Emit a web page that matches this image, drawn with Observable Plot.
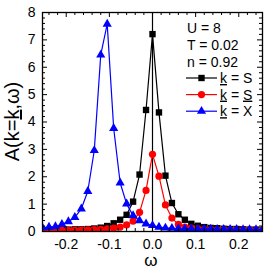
<!DOCTYPE html>
<html>
<head>
<meta charset="utf-8">
<script src="https://cdn.jsdelivr.net/npm/d3@7"></script>
<script src="https://cdn.jsdelivr.net/npm/@observablehq/plot@0.6"></script>
<style>
  html, body { margin: 0; padding: 0; background: #fff; overflow: hidden; }
  #chart svg { display: block; font-family: "Liberation Sans", Arial, sans-serif; }
</style>
</head>
<body>
<div id="chart"></div>
<script>
const omega = [-0.255,-0.24,-0.225,-0.21,-0.195,-0.18,-0.165,-0.15,-0.135,-0.12,-0.105,-0.09,-0.075,-0.06,-0.045,-0.03,-0.015,0,
  0.015,0.03,0.045,0.06,0.075,0.09,0.105,0.12,0.135,0.15,0.165,0.18,0.195,0.21,0.225,0.24,0.255];
const seriesS = [0.05,0.05,0.06,0.06,0.07,0.08,0.08,0.09,0.11,0.14,0.20,0.30,0.43,0.61,1.09,2.08,4.44,7.21,
  4.35,2.04,1.04,0.63,0.43,0.28,0.21,0.16,0.13,0.12,0.10,0.09,0.09,0.08,0.07,0.07,0.06];
const seriesSbar = [0.03,0.03,0.04,0.04,0.04,0.05,0.05,0.06,0.07,0.08,0.10,0.12,0.16,0.24,0.38,0.70,1.50,2.82,
  2.02,0.97,0.49,0.26,0.16,0.12,0.10,0.08,0.07,0.06,0.06,0.05,0.05,0.05,0.04,0.04,0.04];
const seriesX = [0.14,0.16,0.18,0.26,0.36,0.52,0.83,1.47,2.96,6.45,7.58,3.77,1.78,1.01,0.58,0.40,0.28,0.22,
  0.16,0.13,0.12,0.11,0.10,0.10,0.09,0.09,0.09,0.08,0.08,0.08,0.08,0.07,0.07,0.07,0.07];
const xMajor = [-0.2,-0.1,0,0.1,0.2];
const xMinor = [-0.24,-0.22,-0.18,-0.16,-0.14,-0.12,-0.08,-0.06,-0.04,-0.02,0.02,0.04,0.06,0.08,0.12,0.14,0.16,0.18,0.22,0.24];
const yMajor = [0,1,2,3,4,5,6,7,8];
const yMinor = d3.range(0, 8.01, 0.2).filter(v => Math.abs(v - Math.round(v)) > 1e-6);
const paramLabels = ["U = 8", "T = 0.02", "n = 0.92"];
const seriesNames = ["S", "S̲", "X"];
const colors = ["#000000", "#ff0000", "#0000ff"];
const symbols = ["square", "circle", "triangle"];

const W = 264, H = 273, mL = 42, mR = 2, mT = 12, mB = 42;
const pw = W - mL - mR, ph = H - mT - mB;

const mk = (vals) => omega.map((w, i) => ({w, a: vals[i]}));
const data = [mk(seriesS), mk(seriesSbar), mk(seriesX)];
const rs = [3.6, 3.6, 3.4];

const marks = [
  Plot.ruleX([0], {stroke: "#000", strokeWidth: 1.2}),
];
data.forEach((d, k) => {
  marks.push(Plot.line(d, {x: "w", y: "a", stroke: colors[k], strokeWidth: 1.2, clip: true}));
  marks.push(Plot.dot(d, {x: "w", y: "a", fill: colors[k], stroke: "none", symbol: () => symbols[k], r: rs[k], clip: true}));
});
marks.push(
  Plot.tickX(xMajor, {x: d => d, insetTop: ph - 5, strokeWidth: 1}),
  Plot.tickX(xMajor, {x: d => d, insetBottom: ph - 5, strokeWidth: 1}),
  Plot.tickX(xMinor, {x: d => d, insetTop: ph - 3, strokeWidth: 1}),
  Plot.tickX(xMinor, {x: d => d, insetBottom: ph - 3, strokeWidth: 1}),
  Plot.tickY(yMajor, {y: d => d, insetRight: pw - 5, strokeWidth: 1}),
  Plot.tickY(yMajor, {y: d => d, insetLeft: pw - 5, strokeWidth: 1}),
  Plot.tickY(yMinor, {y: d => d, insetRight: pw - 3, strokeWidth: 1}),
  Plot.tickY(yMinor, {y: d => d, insetLeft: pw - 3, strokeWidth: 1}),
  Plot.axisX({ticks: xMajor, tickSize: 0, tickPadding: 8, fontSize: 14, tickFormat: d => d.toFixed(1), label: null}),
  Plot.axisY({ticks: yMajor, tickSize: 0, tickPadding: 7, fontSize: 14, tickFormat: d => String(d), label: null}),
  Plot.frame({stroke: "#000", strokeWidth: 1.3})
);

const svg = Plot.plot({
  width: W, height: H,
  marginLeft: mL, marginRight: mR, marginTop: mT, marginBottom: mB,
  x: {domain: [-0.255, 0.255]},
  y: {domain: [0, 8]},
  style: {fontFamily: "'Liberation Sans', Arial, sans-serif", color: "#000", background: "#fff", overflow: "visible"},
  marks
});

const s = d3.select(svg);
// axis titles
const yl = s.append("text")
  .attr("transform", `translate(19,${mT + ph / 2}) rotate(-90)`)
  .attr("text-anchor", "middle")
  .attr("font-size", 20)
  .attr("fill", "#000");
yl.append("tspan").text("A(k=");
yl.append("tspan").attr("text-decoration", "underline").text("k");
yl.append("tspan").text(",ω)");

s.append("text").attr("x", mL + pw / 2 - 1).attr("y", 266)
  .attr("text-anchor", "middle").attr("font-size", 17).attr("fill", "#000").text("ω");

// parameter text
paramLabels.forEach((t, i) => {
  s.append("text").attr("x", 187).attr("y", 32.5 + i * 17).attr("text-anchor", "start")
    .attr("font-size", 14).attr("fill", "#000").text(t);
});
// legend
const symGen = {square: d3.symbolSquare, circle: d3.symbolCircle, triangle: d3.symbolTriangle};
seriesNames.forEach((nm, i) => {
  const y = 78 + i * 16.6;
  s.append("line").attr("x1", 186).attr("x2", 217).attr("y1", y).attr("y2", y)
    .attr("stroke", colors[i]).attr("stroke-width", 1.2);
  s.append("path").attr("transform", `translate(201.5,${y})`)
    .attr("d", d3.symbol(symGen[symbols[i]], Math.PI * rs[i] * rs[i])())
    .attr("fill", colors[i]);
  const t = s.append("text").attr("x", 220).attr("y", y + 5).attr("text-anchor", "start")
    .attr("font-size", 14).attr("fill", "#000");
  t.append("tspan").attr("text-decoration", "underline").text("k");
  if (nm === "S̲") {
    t.append("tspan").text(" = ");
    t.append("tspan").attr("text-decoration", "underline").text("S");
  } else {
    t.append("tspan").text(" = " + nm);
  }
});

document.getElementById("chart").appendChild(svg);
</script>
</body>
</html>
